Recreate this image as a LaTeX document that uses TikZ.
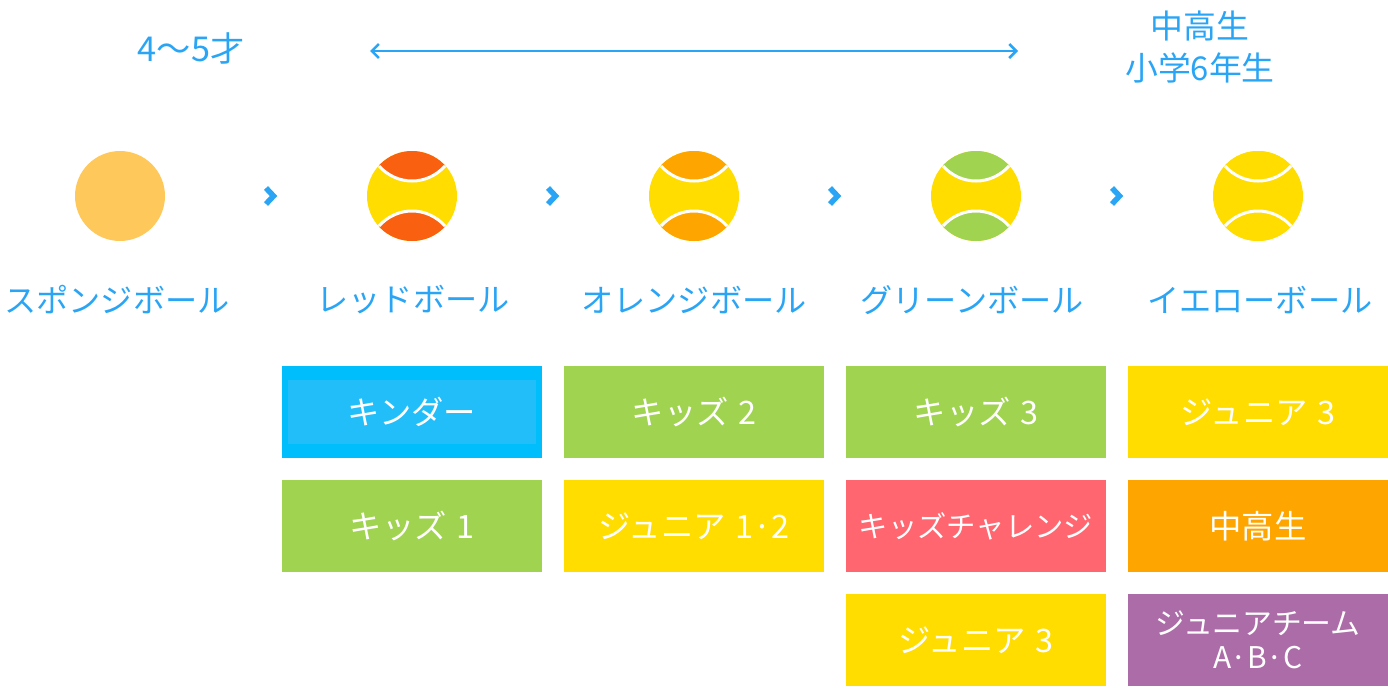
\documentclass[tikz,border=0pt]{standalone}
\usepackage{fontspec}
\setmainfont{Noto Sans CJK JP}
\usetikzlibrary{arrows.meta}
\definecolor{skyblue}{HTML}{2AA5F5}
\definecolor{kinderout}{HTML}{00BEFC}
\definecolor{kinderin}{HTML}{22BEFA}
\definecolor{leafgreen}{HTML}{A0D34F}
\definecolor{sunyellow}{HTML}{FFDD00}
\definecolor{coral}{HTML}{FF6670}
\definecolor{amber}{HTML}{FFA500}
\definecolor{grape}{HTML}{AC6CA8}
\definecolor{redball}{HTML}{F9600F}
\definecolor{sponge}{HTML}{FFC85A}
\newcommand{\gapspace}{\hspace{.3em}}
\tikzset{
	label/.style={text=skyblue, font=\fontsize{18.3}{22}\selectfont, inner sep=0pt},
	course/.style={fill=#1, text=white, minimum width=5.2cm, minimum height=1.84cm, inner sep=0pt, align=center, font=\fontsize{18.4}{19.5}\selectfont},
	chevron/.style={minimum width=.24cm, minimum height=.36cm, inner sep=0pt},
	ball/.style={circle, minimum size=1.8cm, inner sep=0pt},
	pics/seamball/.style n args={2}{code={
		\fill[#1] (0,0) circle [radius=45];
		\begin{scope}
			\clip (0,0) circle [radius=45];
			\fill[#2] (-33,-30) .. controls (-15,-10) and (15,-10) .. (33,-30) -- (33,-50) -- (-33,-50) -- cycle;
			\fill[#2] (-33,30) .. controls (-15,10) and (15,10) .. (33,30) -- (33,50) -- (-33,50) -- cycle;
			\draw[white, line width=.06cm] (-33,-30) .. controls (-15,-10) and (15,-10) .. (33,-30);
			\draw[white, line width=.06cm] (-33,30) .. controls (-15,10) and (15,10) .. (33,30);
		\end{scope}
	}},
	pics/chevronmark/.style={code={
		\draw[skyblue, line width=.11cm] (-4,-8) -- (3.5,0) -- (-4,8);
	}}
}
\begin{document}
\begin{tikzpicture}[x=.02cm,y=-.02cm]
	\useasboundingbox (0,0) rectangle (1388,687);
	\node[label, font=\fontsize{19.5}{22}\selectfont] (age) at (191,48){4〜5才};
	\node[label, align=center, font=\fontsize{18.7}{22}\selectfont] (school) at (1200,47){中高生\\[2pt]小学6年生};
	\coordinate (rangeL) at (370,51);
	\coordinate (rangeR) at (1018,51);
	\draw[{Straight Barb[length=.14cm,width=.28cm]}-{Straight Barb[length=.14cm,width=.28cm]}, skyblue, line width=.05cm] (rangeL) -- (rangeR);

	\node[ball, fill=sponge] (ballA) at (120,196){};
	\node[ball] (ballB) at (412,196){};
	\node[ball] (ballC) at (694,196){};
	\node[ball] (ballD) at (976,196){};
	\node[ball] (ballE) at (1258,196){};
	\pic at (ballB) {seamball={sunyellow}{redball}};
	\pic at (ballC) {seamball={sunyellow}{amber}};
	\pic at (ballD) {seamball={sunyellow}{leafgreen}};
	\pic at (ballE) {seamball={sunyellow}{sunyellow}};

	\node[chevron] (stepA) at (270,196){};
	\node[chevron] (stepB) at (552,196){};
	\node[chevron] (stepC) at (834,196){};
	\node[chevron] (stepD) at (1116,196){};
	\pic at (stepA) {chevronmark};
	\pic at (stepB) {chevronmark};
	\pic at (stepC) {chevronmark};
	\pic at (stepD) {chevronmark};

	\node[label] (nameA) at (117,300){スポンジボール};
	\node[label] (nameB) at (413,300){レッドボール};
	\node[label] (nameC) at (694,300){オレンジボール};
	\node[label] (nameD) at (972,300){グリーンボール};
	\node[label] (nameE) at (1260,300){イエローボール};

	\node[course=kinderout] (kinder) at (412,412){};
	\node[fill=kinderin, text=white, minimum width=4.96cm, minimum height=1.28cm, inner sep=0pt, font=\fontsize{18.4}{19.5}\selectfont] (kinderT) at (412,412){キンダー};
	\node[course=leafgreen] (kidsA) at (412,526){キッズ\gapspace 1};
	\node[course=leafgreen] (kidsB) at (694,412){キッズ\gapspace 2};
	\node[course=sunyellow] (juniorA) at (694,526){ジュニア\gapspace 1·2};
	\node[course=leafgreen] (kidsC) at (976,412){キッズ\gapspace 3};
	\node[course=coral, font=\fontsize{16.7}{19}\selectfont] (challenge) at (976,526){キッズチャレンジ};
	\node[course=sunyellow] (juniorB) at (976,640){ジュニア\gapspace 3};
	\node[course=sunyellow] (juniorC) at (1258,412){ジュニア\gapspace 3};
	\node[course=amber] (middle) at (1258,526){中高生};
	\node[course=grape, font=\fontsize{17}{19}\selectfont] (team) at (1258,640){ジュニアチーム\\A·B·C};
\end{tikzpicture}
\end{document}
